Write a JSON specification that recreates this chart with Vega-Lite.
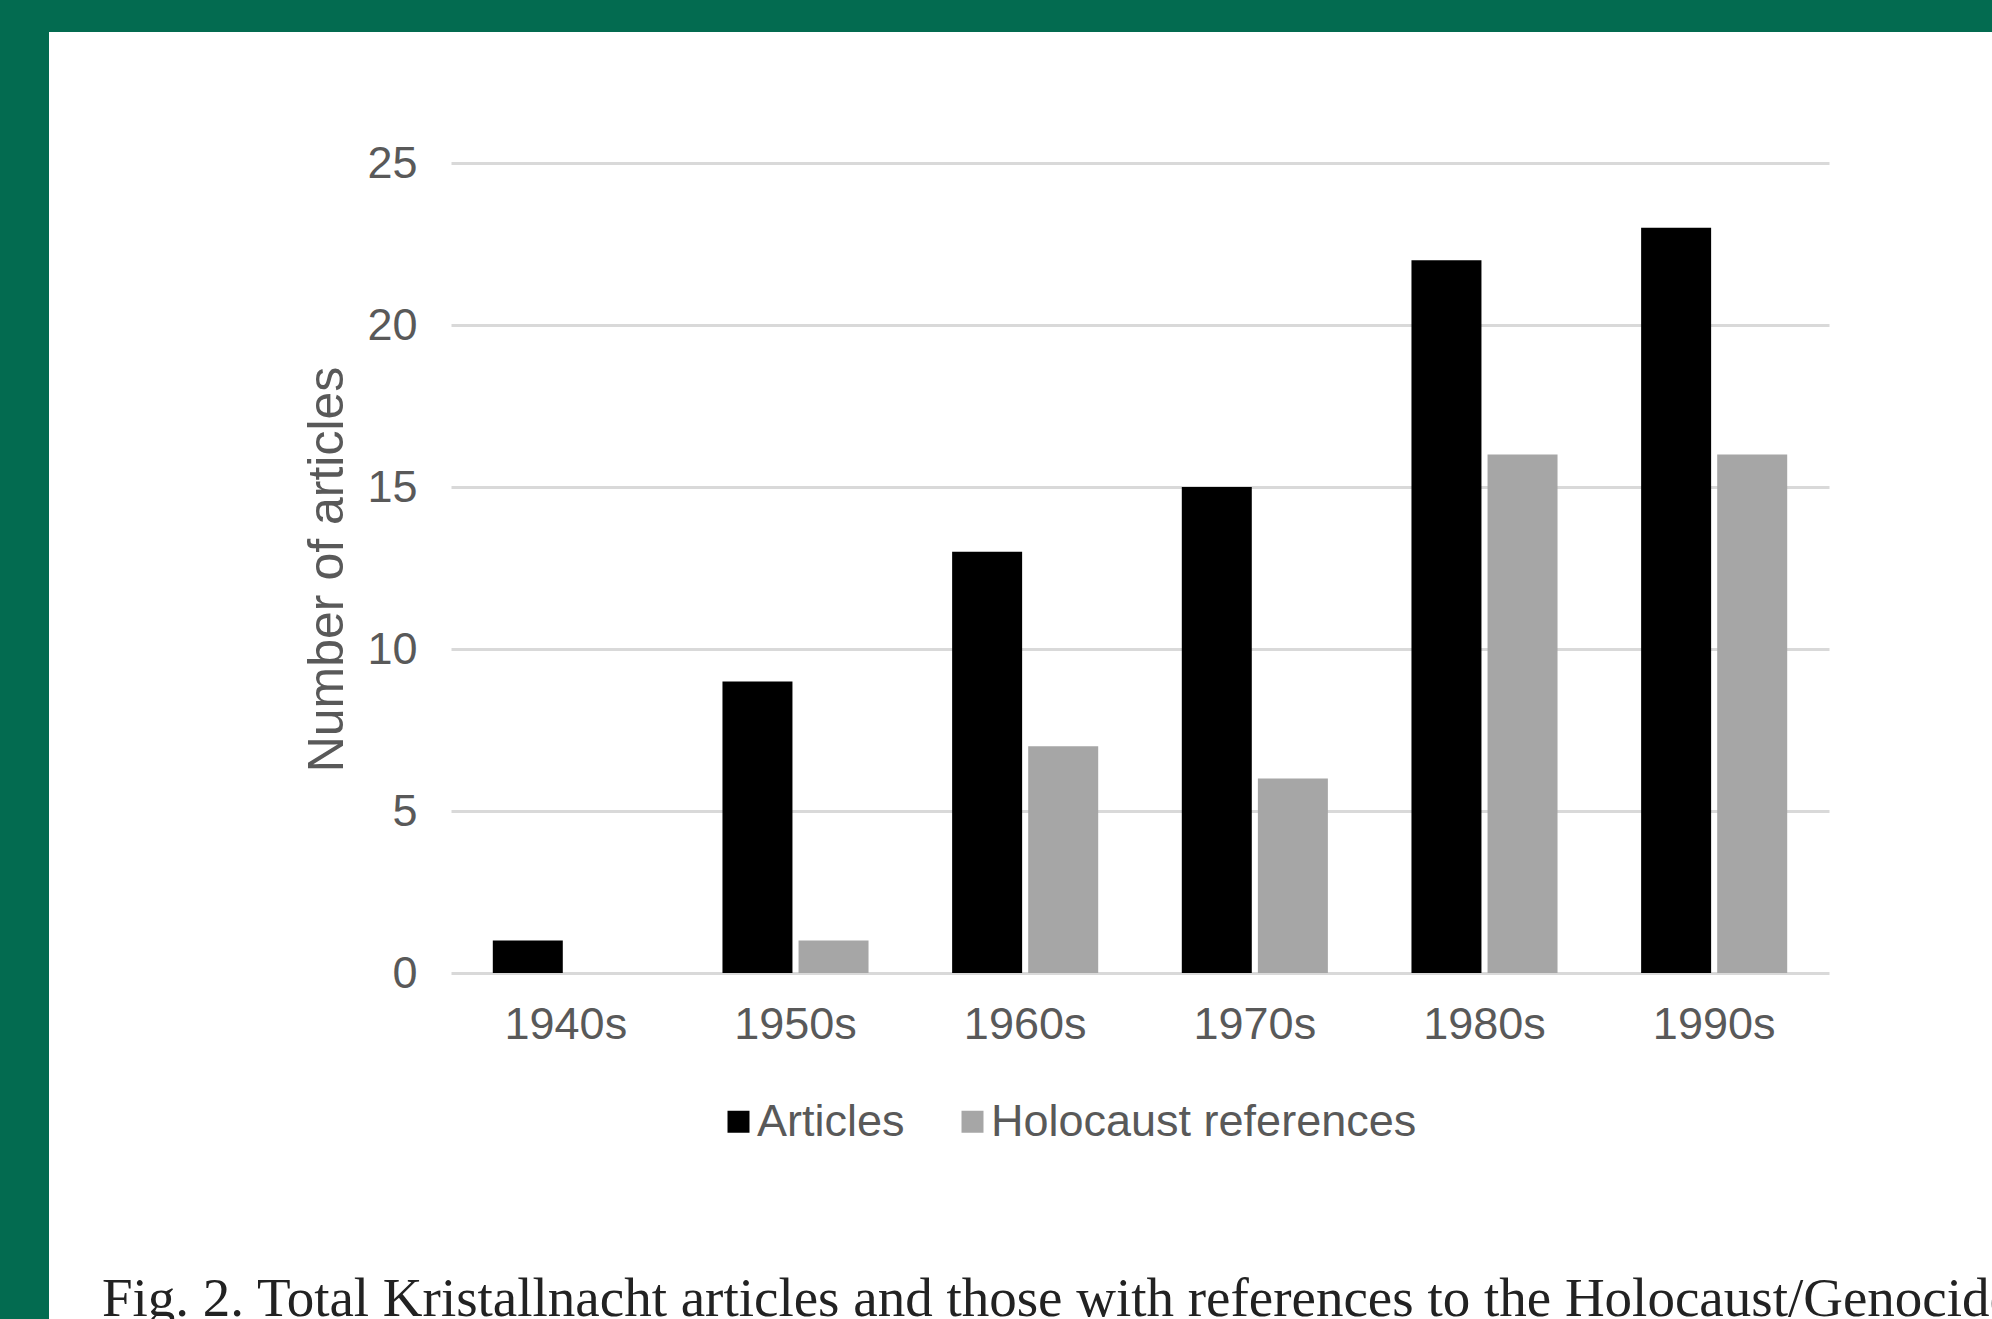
{
  "$schema": "https://vega.github.io/schema/vega-lite/v6.json",
  "width": 1943,
  "height": 1287,
  "autosize": {"type": "none"},
  "padding": {"left": 49, "top": 32, "right": 0, "bottom": 0},
  "background": "#036b50",
  "config": {
    "view": {"fill": "white", "stroke": null}
  },
  "data": {
    "values": [
      {"decade": "1940s", "series": "Articles", "count": 1},
      {"decade": "1940s", "series": "Holocaust references", "count": 0},
      {"decade": "1950s", "series": "Articles", "count": 9},
      {"decade": "1950s", "series": "Holocaust references", "count": 1},
      {"decade": "1960s", "series": "Articles", "count": 13},
      {"decade": "1960s", "series": "Holocaust references", "count": 7},
      {"decade": "1970s", "series": "Articles", "count": 15},
      {"decade": "1970s", "series": "Holocaust references", "count": 6},
      {"decade": "1980s", "series": "Articles", "count": 22},
      {"decade": "1980s", "series": "Holocaust references", "count": 16},
      {"decade": "1990s", "series": "Articles", "count": 23},
      {"decade": "1990s", "series": "Holocaust references", "count": 16}
    ]
  },
  "title": {
    "text": "Fig. 2. Total Kristallnacht articles and those with references to the Holocaust/Genocide",
    "orient": "bottom",
    "anchor": "start",
    "frame": "group",
    "font": "Liberation Serif",
    "fontSize": 55,
    "fontWeight": "normal",
    "color": "#222222",
    "baseline": "alphabetic",
    "offset": -3,
    "dx": 53
  },
  "mark": {"type": "bar"},
  "encoding": {
    "x": {
      "field": "decade",
      "type": "nominal",
      "sort": null,
      "scale": {"range": [402, 1780], "paddingInner": 0.364, "paddingOuter": 0.182},
      "axis": {
        "title": null,
        "offset": -346,
        "domain": false,
        "ticks": false,
        "tickSize": 0,
        "grid": false,
        "labelAngle": 0,
        "labelPadding": 29,
        "labelFont": "Liberation Sans",
        "labelFontSize": 45,
        "labelColor": "#595959"
      }
    },
    "xOffset": {
      "field": "series",
      "type": "nominal",
      "sort": ["Articles", "Holocaust references"],
      "scale": {"paddingInner": 0.08}
    },
    "y": {
      "field": "count",
      "type": "quantitative",
      "scale": {"domain": [0, 25], "range": [941, 131], "nice": false, "zero": true},
      "axis": {
        "title": "Number of articles",
        "values": [0, 5, 10, 15, 20, 25],
        "offset": -402,
        "domain": false,
        "ticks": false,
        "tickSize": 0,
        "labelPadding": 34,
        "labelFont": "Liberation Sans",
        "labelFontSize": 45,
        "labelColor": "#595959",
        "grid": true,
        "gridColor": "#d9d9d9",
        "gridWidth": 3,
        "titleFont": "Liberation Sans",
        "titleFontSize": 50,
        "titleFontWeight": "normal",
        "titleColor": "#595959",
        "titleAngle": -90,
        "titleAlign": "center",
        "titleBaseline": "middle",
        "titleX": -124,
        "titleY": 537
      }
    },
    "color": {
      "field": "series",
      "type": "nominal",
      "scale": {"domain": ["Articles", "Holocaust references"], "range": ["#000000", "#a6a6a6"]},
      "legend": {
        "title": null,
        "orient": "none",
        "legendX": 667,
        "legendY": 1067,
        "direction": "horizontal",
        "padding": 0,
        "symbolType": "square",
        "symbolSize": 484,
        "symbolStrokeWidth": 0,
        "symbolOpacity": 1,
        "symbolOffset": 0,
        "labelFont": "Liberation Sans",
        "labelFontSize": 45,
        "labelColor": "#595959",
        "labelOffset": -4,
        "labelLimit": 1000,
        "columnPadding": 45
      }
    }
  }
}
